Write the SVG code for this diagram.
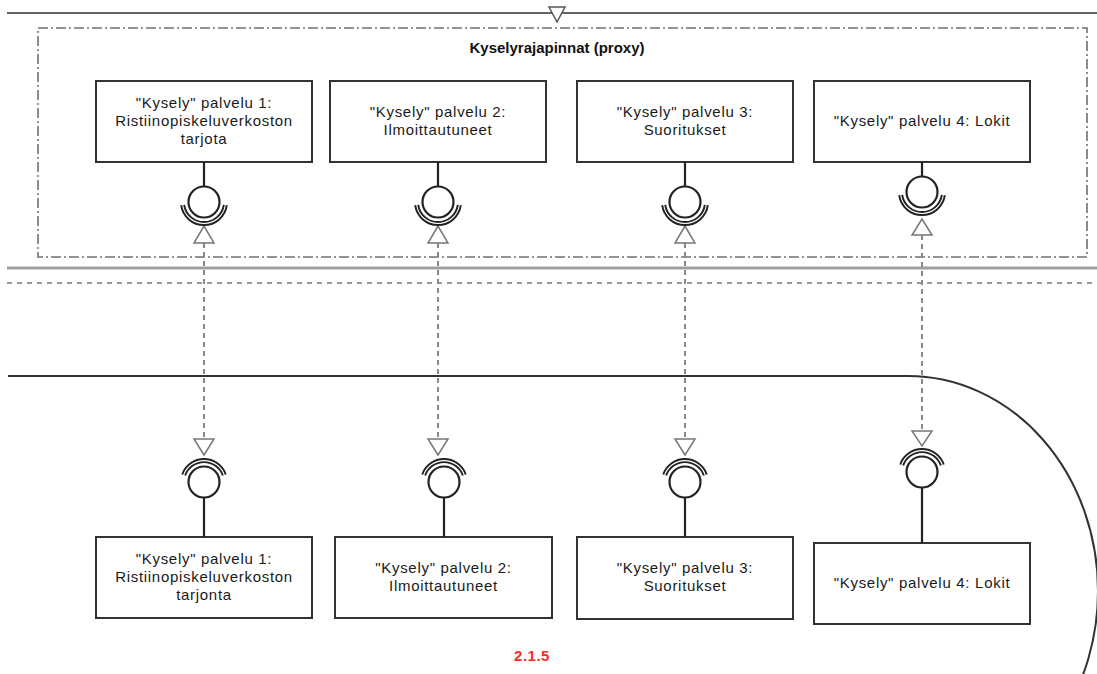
<svg xmlns="http://www.w3.org/2000/svg" width="1097" height="674" viewBox="0 0 1097 674">
<style>
.box{fill:#fff;stroke:#333;stroke-width:2}
.t{font-family:"Liberation Sans",Arial,sans-serif;font-size:15px;letter-spacing:0.7px;fill:#1a1a1a;text-anchor:middle}
.title{font-family:"Liberation Sans",Arial,sans-serif;font-size:15px;font-weight:bold;fill:#111;text-anchor:middle}
.stem{stroke:#222;stroke-width:2.2;fill:none}
.ball{fill:#fff;stroke:#222;stroke-width:2.2}
.sock{fill:none;stroke:#222;stroke-width:5}
.sockw{fill:none;stroke:#fff;stroke-width:1.1}
.tri{fill:#fff;stroke:#777;stroke-width:1.5}
.dash{stroke:#888;stroke-width:2;stroke-dasharray:5,4;fill:none}
</style>
<rect width="1097" height="674" fill="#fff"/>
<g id="background">
<line x1="7" y1="13" x2="1097" y2="13" stroke="#333" stroke-width="1.5"/>
<polygon points="549,7 565,7 557,22" fill="#fff" stroke="#555" stroke-width="1.5"/>
<rect id="frame" x="38" y="28" width="1049" height="229" fill="none" stroke="#707070" stroke-width="1.6" stroke-dasharray="10,3,2,3"/>
<text class="title" x="557" y="53">Kyselyrajapinnat (proxy)</text>
<line x1="7" y1="268" x2="1097" y2="268" stroke="#a0a0a0" stroke-width="3"/>
<line x1="7" y1="283" x2="1097" y2="283" stroke="#999" stroke-width="2" stroke-dasharray="5,5"/>
<path d="M8 376 H908 A190 215 0 0 1 1098 591 A190 215 0 0 1 1060 720" fill="none" stroke="#333" stroke-width="2"/>
<text x="532" y="661" font-family="Liberation Sans,Arial,sans-serif" font-size="15" font-weight="bold" letter-spacing="0.5" fill="#ff2a2a" text-anchor="middle">2.1.5</text>
</g>
<g id="connectors">
<line class="dash" x1="204" y1="243" x2="204" y2="439"/>
<line class="dash" x1="438" y1="243" x2="438" y2="439"/>
<line class="dash" x1="685" y1="243" x2="685" y2="439"/>
<line class="dash" x1="922" y1="235" x2="922" y2="431"/>
<polygon class="tri" points="204,226 194,243 214,243"/>
<polygon class="tri" points="438,226 428,243 448,243"/>
<polygon class="tri" points="685,226 675,243 695,243"/>
<polygon class="tri" points="922,219 912,235 932,235"/>
<polygon class="tri" points="194,439 214,439 204,455"/>
<polygon class="tri" points="428,439 448,439 438,455"/>
<polygon class="tri" points="675,439 695,439 685,455"/>
<polygon class="tri" points="912,431 932,431 922,446"/>
</g>
<g id="top1">
<rect class="box" x="96" y="81" width="216" height="81"/>
<text class="t" x="204" y="108">"Kysely" palvelu 1:</text>
<text class="t" x="204" y="126">Ristiinopiskeluverkoston</text>
<text class="t" x="204" y="144">tarjota</text>
<line class="stem" x1="204" y1="162" x2="204" y2="186"/>
<circle class="ball" cx="204" cy="202" r="15.5"/>
<path class="sock" d="M182.7 205 A21.5 21.5 0 0 0 225.3 205"/>
<path class="sockw" d="M182.7 205 A21.5 21.5 0 0 0 225.3 205"/>
</g>
<g id="top2">
<rect class="box" x="330" y="81" width="216" height="81"/>
<text class="t" x="438" y="117">"Kysely" palvelu 2:</text>
<text class="t" x="438" y="135">Ilmoittautuneet</text>
<line class="stem" x1="438" y1="162" x2="438" y2="186"/>
<circle class="ball" cx="438" cy="202" r="15.5"/>
<path class="sock" d="M416.7 205 A21.5 21.5 0 0 0 459.3 205"/>
<path class="sockw" d="M416.7 205 A21.5 21.5 0 0 0 459.3 205"/>
</g>
<g id="top3">
<rect class="box" x="577" y="81" width="216" height="81"/>
<text class="t" x="685" y="117">"Kysely" palvelu 3:</text>
<text class="t" x="685" y="135">Suoritukset</text>
<line class="stem" x1="685" y1="162" x2="685" y2="186"/>
<circle class="ball" cx="685" cy="202" r="15.5"/>
<path class="sock" d="M663.7 205 A21.5 21.5 0 0 0 706.3 205"/>
<path class="sockw" d="M663.7 205 A21.5 21.5 0 0 0 706.3 205"/>
</g>
<g id="top4">
<rect class="box" x="814" y="81" width="216" height="81"/>
<text class="t" x="922" y="126">"Kysely" palvelu 4: Lokit</text>
<line class="stem" x1="922" y1="162" x2="922" y2="176"/>
<circle class="ball" cx="922" cy="192" r="15.5"/>
<path class="sock" d="M900.7 195 A21.5 21.5 0 0 0 943.3 195"/>
<path class="sockw" d="M900.7 195 A21.5 21.5 0 0 0 943.3 195"/>
</g>
<g id="bottom1">
<rect class="box" x="96" y="537" width="216" height="81"/>
<text class="t" x="204" y="564">"Kysely" palvelu 1:</text>
<text class="t" x="204" y="582">Ristiinopiskeluverkoston</text>
<text class="t" x="204" y="600">tarjonta</text>
<line class="stem" x1="204" y1="498" x2="204" y2="537"/>
<circle class="ball" cx="204" cy="482" r="15.5"/>
<path class="sock" d="M183.7 475 A21.5 21.5 0 0 1 224.3 475"/>
<path class="sockw" d="M183.7 475 A21.5 21.5 0 0 1 224.3 475"/>
</g>
<g id="bottom2">
<rect class="box" x="335" y="537" width="217" height="81"/>
<text class="t" x="443.5" y="573">"Kysely" palvelu 2:</text>
<text class="t" x="443.5" y="591">Ilmoittautuneet</text>
<line class="stem" x1="444" y1="498" x2="444" y2="537"/>
<circle class="ball" cx="444" cy="482" r="15.5"/>
<path class="sock" d="M423.7 475 A21.5 21.5 0 0 1 464.3 475"/>
<path class="sockw" d="M423.7 475 A21.5 21.5 0 0 1 464.3 475"/>
</g>
<g id="bottom3">
<rect class="box" x="577" y="537" width="216" height="82"/>
<text class="t" x="685" y="573">"Kysely" palvelu 3:</text>
<text class="t" x="685" y="591">Suoritukset</text>
<line class="stem" x1="685" y1="498" x2="685" y2="537"/>
<circle class="ball" cx="685" cy="482" r="15.5"/>
<path class="sock" d="M664.7 475 A21.5 21.5 0 0 1 705.3 475"/>
<path class="sockw" d="M664.7 475 A21.5 21.5 0 0 1 705.3 475"/>
</g>
<g id="bottom4">
<rect class="box" x="814" y="543" width="216" height="81"/>
<text class="t" x="922" y="588">"Kysely" palvelu 4: Lokit</text>
<line class="stem" x1="922" y1="488" x2="922" y2="543"/>
<circle class="ball" cx="922" cy="472" r="15.5"/>
<path class="sock" d="M901.7 465 A21.5 21.5 0 0 1 942.3 465"/>
<path class="sockw" d="M901.7 465 A21.5 21.5 0 0 1 942.3 465"/>
</g>
</svg>
